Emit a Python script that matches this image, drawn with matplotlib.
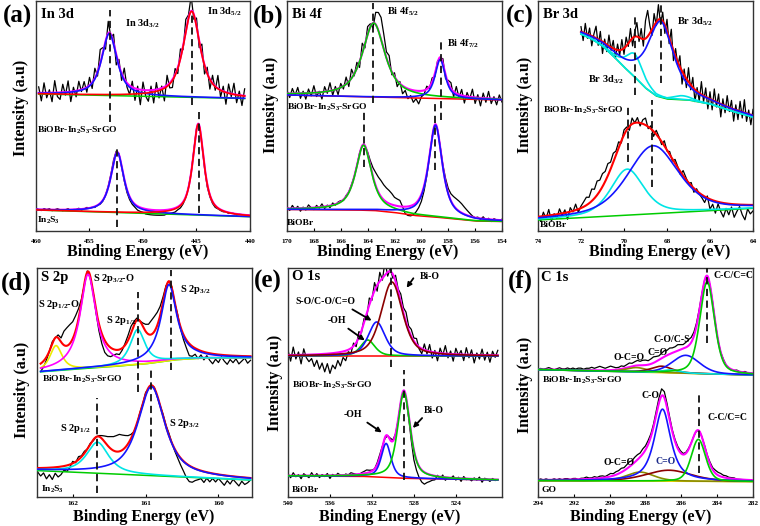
import numpy as np
import matplotlib
matplotlib.use("Agg")
import matplotlib.pyplot as plt

plt.rcParams['font.family'] = ['Liberation Serif', 'DejaVu Serif']
plt.rcParams['font.weight'] = 'bold'
plt.rcParams['mathtext.fontset'] = 'custom'
plt.rcParams['mathtext.rm'] = 'Liberation Serif:bold'
plt.rcParams['mathtext.it'] = 'Liberation Serif:bold'
plt.rcParams['mathtext.bf'] = 'Liberation Serif:bold'

# ======================= DATA =======================
# intensities in arbitrary units (0 = bottom of each panel)
# ---- (a) In 3d : BiOBr-In2S3-SrGO (top) ----
A1_RANGE = [459.75, 440.5]
A1_BG_E = [459.75, 440.5]
A1_BG_I = [137.0, 132.5]
A1_POS = [453.15, 445.45]
A1_AMP = [62, 86]
A1_HWHM = [0.85, 0.95]
A1_ETA = [0.8, 0.8]
A1_RES = [6, -8, 10, -5, 3, -9, 12, -4, -7, 8, -3, 11, -10, 4, -6, 9, -2, 7, -5,
          8, -6, 10, -4, 14, 5, -8, 12, -3, 9, -10, 6, -7, 11, -4,
          -9, 6, -12, 3, -15, 8, -6, -11, 4, -13, 7, -9, 2, -14, 10, -5, -8, 6,
          -6, 9, -4, 12, 3, 15, -5, 8, -7, 10, -9, 6,
          -10, 8, -4, 13, -7, 5, -12, 9, -3, 11, -8, 4, -10, 7]
# ---- (a) In 3d : In2S3 (bottom) ----
A2_RANGE = [460.0, 440.0]
A2_BG_E = [460.0, 440.0]
A2_BG_I = [21.0, 14.3]
A2_POS = [452.4, 444.83]
A2_AMP = [60, 91]
A2_HWHM = [0.72, 0.62]
A2_ETA = [0.8, 0.8]
A2_RES = [1, 0, -1, 1, 0, 1, -1, 0, 1, 0, -1, 0, 1, -1, 0, 0, 1, -1, 0, 1, 0,
          0, -1, 0, -1, -1, 0, 1, 2, 3,
          2, 1, -1, -2, -3, -3, -3, -3, -4, -4,
          -4, -5, -5, -5, -5, -5, -5, -5, -5, -4, -4, -4, -4, -3, -3, -2, -1, 0,
          0, 1, 1, 0, -1, -2, -3, -2, -2, -2, -1,
          -1, -1, 0, -1, 0, 0, -1, 0, 0, 0, 0, 0]
A_DASH_E = [453.1, 445.4, 452.4, 444.8]
A_DASH_TOP = [221.0, 217.7, 84.3, 119.3]
A_DASH_BOT = [109.3, 126.0, 4.3, 17.7]

# ---- (b) Bi 4f : BiOBr-In2S3-SrGO (top) ----
B1_RANGE = [170.0, 154.0]
B1_BG_E = [170.0, 154.0]
B1_BG_I = [136.0, 131.0]
B1_POS = [163.55, 158.6]
B1_AMP = [74, 39]
B1_HWHM = [1.0, 0.45]
B1_ETA = [0.8, 0.8]
B1_RES = [3, -4, 5, -2, 6, -5, 2, -6, 4, -3, 7, -4, 1, -7, 5, -2, 8, -5, 3, -6,
          4, -3, 7, -5, 9, -2, 6, -6, 10, -4, 8, 3, -5, 12, 18, 22,
          15, 6, 10, -3, 4, -6, 2, -8, -3, -10, -6, -12, -8, -13, -6,
          -4, 3, -2, 4, -3, 2, -1, 5, -4, 3, 6, -5, 7,
          -3, 6, -7, 4, -2, 8, -6, 3, -8, 5, -4, 7, -5, 2, -6, 4, -3]
# ---- (b) Bi 4f : BiOBr (bottom) ----
B2_RANGE = [170.0, 154.0]
B2_BG_E = [170.0, 165.0, 163.5, 162.0, 160.5, 159.0, 157.5, 156.0, 154.0]
B2_BG_I = [21.5, 21.0, 20.5, 18.5, 15.5, 14.0, 12.0, 10.0, 9.5]
B2_POS = [164.3, 158.95]
B2_AMP = [65, 92]
B2_HWHM = [0.7, 0.6]
B2_ETA = [0.8, 0.8]
B2_RES = [2, -2, 3, -1, 2, -3, 1, -2, 3, 0, -2, 2, -1, 3, -2, 1, -2, 2, -1, 1,
          1, -1, 1, 0, 1, 0, 0, 1, 0,
          0, 2, 5, 9, 13, 15, 16, 15, 14, 13, 11, 8, 7, 6, 0, -7, -9,
          -10, -10, -9, -8, -7, -5, -3, -1, 0,
          0, 0, 1, 2, 4, 5, 7, 9, 10, 10, 9, 7, 5, 3, 1, 0,
          1, -1, 2, -1, 1, -2, 1, 0, -1, 1]
B_DASH_E = [163.6, 158.56, 164.3, 159.0]
B_DASH_TOP = [227.7, 191.0, 121.0, 131.0]
B_DASH_BOT = [127.7, 111.0, 64.3, 61.0]

# ---- (c) Br 3d : BiOBr-In2S3-SrGO (top) ----
C1_RANGE = [72.0, 64.0]
C1_BG_E = [72.0, 71.5, 71.0, 70.5, 70.0, 69.5, 69.0, 68.5, 68.0, 67.0, 66.0, 65.0, 64.0]
C1_BG_I = [197, 192, 185, 175, 164, 154, 143, 135, 132, 131, 127, 120, 114]
C1_POS = [69.5, 67.3, 68.3]
C1_AMP = [23, 4, 76]
C1_HWHM = [0.45, 0.5, 0.72]
C1_ETA = [0.5, 0.5, 0.7]
C1_RES = [5, -8, 10, -4, 7, -10, 3, 12, -6, 9, -12, 4, -7, 11, -3, 8, -9, 6, -5, 10,
          -6, 9, -3, 12, -8, 5, 14, -4, 10, -7, 18, 26, 8, -6, 12, -3, 15, -5, 9, -8,
          12, -6, 15, -10, 8, -4, 11, -13, 6, -9, 14, -5, 10, -12, 4, -8, 13, -6, 9, -11,
          7, -10, 12, -5, 9, -13, 6, -7, 11, -4, 8, -12, 5, -9, 10, -6, 13, -8, 4, -10, 6]
# ---- (c) Br 3d : BiOBr (bottom) ----
C2_RANGE = [74.0, 64.0]
C2_BG_E = [74.0, 64.0]
C2_BG_I = [11.0, 22.7]
C2_POS = [69.85, 68.65]
C2_AMP = [46, 68]
C2_HWHM = [0.9, 1.4]
C2_ETA = [0.5, 0.5]
C2_RES = [2, -5, 4, -3, 6, -6, 1, -4, 5, -2, 3, -7, 4, -1, 6, -3, 2,
          5, 8, 6, 12, 9, 14, 11, 13, 10, 12, 7, 9, 4,
          6, -2, 5, 3, -4, 6, 0, 5, -3, 4, 7, -2, 3, -5, 4, 1, -3, 5, -1,
          3, -2, 4, 1, -3, 5, 2, -1, 3, -4, 2, -1, -3,
          -6, 2, -10, -4, -12, -2, -9, -14, -5, -11, -3, -13, -7, -2, -10, -15, -4, -9, -6]
C_DASH_E = [69.5, 68.3, 69.8, 68.7]
C_DASH_TOP = [217.7, 230.0, 124.3, 131.0]
C_DASH_BOT = [136.0, 147.7, 69.3, 44.3]

# ---- (d) S 2p : BiOBr-In2S3-SrGO (top) ----
D1_RANGE = [162.44, 159.56]
D1_BG_E = [162.44, 162.0, 161.5, 161.0, 160.6, 160.3, 159.56]
D1_BG_I = [125.5, 128.0, 130.5, 133.5, 137.5, 139.0, 139.5]
D1_POS = [162.23, 161.79, 161.11, 160.68]
D1_AMP = [25, 94, 35, 76]
D1_HWHM = [0.1, 0.13, 0.12, 0.13]
D1_ETA = [0.8, 1.0, 0.8, 1.0]
D1_RES = [-8, -6, -3, 0,
          2, 0, 3, 4,
          14, 18, 19, 17, 15, 10,
          3, -1, 1, -2, 0,
          -3, -7, -10, -12, -11, -9,
          -6, -4, -5, -2, 2, 5,
          7, 4, 2, 0, 3, 7,
          10, 14, 15, 13, 9, 5,
          2, 0, 1, -1, 2,
          -2, -5, -8, -12, -10,
          -6, -9, -4, -8, -3, -7, -10, -5, -8, -2, -6, -9, -4, -7, -3, -8, -5, -2, -7, -4]
# ---- (d) S 2p : In2S3 (bottom) ----
D2_RANGE = [162.48, 159.56]
D2_BG_E = [162.48, 159.56]
D2_BG_I = [26.7, 17.3]
D2_POS = [161.66, 160.92]
D2_AMP = [31, 89]
D2_HWHM = [0.18, 0.22]
D2_ETA = [0.8, 0.8]
D2_RES = [-4, -8, -5, -11, -7, -12, -6, -10, -8, -4,
          -6, -3, 2, -1, 3,
          1, 2, 0, 1, -1,
          0, 1, 3, 6, 9, 12,
          14, 16, 17, 15, 12, 8, 4,
          0, -1, 1, 0, 2, -1, 0, 1, -1, 0, 2, 1,
          2, 0, -2, -4, -7, -10, -14,
          -16, -15, -12, -10, -8, -11, -6, -9, -5, -8, -4, -7, -10, -5, -8, -3, -6, -9, -4, -7, -5, -2]
D_DASH_E = [161.1, 160.65, 161.66, 160.92]
D_DASH_TOP = [205.7, 227.3, 99.0, 127.3]
D_DASH_BOT = [105.7, 127.3, 4.0, 37.3]

# ---- (e) O 1s : BiOBr-In2S3-SrGO (top) ----
E1_RANGE = [540.0, 520.0]
E1_BG_E = [540.0, 520.0]
E1_BG_I = [141.3, 141.3]
E1_POS = [532.4, 531.55, 530.1]
E1_AMP = [16, 34, 74]
E1_HWHM = [0.8, 0.95, 1.2]
E1_ETA = [0.5, 0.5, 0.5]
E1_RES = [5, -6, 8, -4, 3, -9, 6, -3, -7,
          -4, -12, -6, -15, -9, -18, -10, -20, -12, -16, -8, -14,
          -6, -10, -2, -5, 3, -4, 6, -2,
          4, -5, 7, -3, 8, -6, 9, -2, 14, -4,
          3, -4, 6, 2, 8, 5, 10, 4, 7, 3, 6, -2,
          -5, 6, -3, 7, -6, 2, -8, 5, -2, 8, -4, 3, -7, 6, -1, 4, -6, 7, -3, 5, -8, 2, -4, 6, -5, 3, -7, 4, -2, 5]
# ---- (e) O 1s : BiOBr (bottom) ----
E2_RANGE = [540.0, 520.0]
E2_BG_E = [540.0, 533.0, 529.0, 520.0]
E2_BG_I = [21.3, 21.0, 19.0, 17.3]
E2_POS = [530.65, 528.95]
E2_AMP = [34, 86]
E2_HWHM = [0.55, 0.7]
E2_ETA = [0.6, 0.6]
E2_RES = [2, -2, 3, -1, 1, -3, 2, 0, -2, 3, -1, 2, -2, 1, -1, 2, -3, 1, -1, 2,
          0, -1, 1, 0, 2, 1, 0, -1, 1, 2, 3, 2, 1,
          0, 2, 3, 1, -1, 0, 2, 1, 0, -1,
          0, -1, -2, -3, -6, -10, -10, -11, -12, -12, -9, -7, -5, -4,
          1, -2, 2, -3, 0, -1, 2, -2, 1, -3, 2, -1, 0, -2, 1, -1, 2, -3, 1, 0, -2, 1, -1, 0]
E_DASH_E = [530.2, 528.9]
E_DASH_TOP = [229.0, 127.0]
E_DASH_BOT = [130.7, 17.0]

# ---- (f) C 1s : BiOBr-In2S3-SrGO (top) ----
F1_RANGE = [294.0, 282.0]
F1_BG_E = [294.0, 282.0]
F1_BG_I = [127.7, 122.3]
F1_POS = [288.5, 287.1, 286.6, 285.75, 284.56]
F1_AMP = [4.5, 6.5, 3, 18, 92]
F1_HWHM = [0.7, 0.7, 0.6, 0.9, 0.48]
F1_ETA = [0.5, 0.5, 0.5, 0.3, 0.4]
F1_RES = [0, 1, 0, 1, 2, 1, 0, 1, 2, 1, 1, 2, 1, 2, 1, 2, 2, 1, 2, 2,
          3, 2, 3, 4, 3, 2, 3, 4, 3, 2, 2, 3, 2, 3, 4, 3, 4, 5, 4, 5,
          5, 4, 5, 6, 5, 4, 5, 6, 5, 6, 5, 5, 6, 5, 4, 5, 6, 5, 4, 3,
          2, 1, 0, -1, 0, 1, 0, -1, 0, 1, 0, 0, -1, 0, 1, 0, 0, 1, 0, 0,
          0]
# ---- (f) C 1s : GO (bottom) ----
F2_RANGE = [294.0, 282.0]
F2_BG_E = [294.0, 282.0]
F2_BG_I = [16.7, 15.7]
F2_POS = [288.3, 286.7, 287.05, 285.05]
F2_AMP = [9, 11, 72, 42]
F2_HWHM = [0.9, 1.5, 0.55, 0.47]
F2_ETA = [0.4, 0.4, 0.8, 0.3]
F2_RES = [0, 1, 0, 1, 0, 0, 1, 0, 1, 0, 1, 1, 0, 1, 1, 0, 1, 1, 2, 1,
          1, 2, 1, 2, 2, 1, 2, 3, 2, 3, 3, 4, 3, 4, 5, 4, 5, 5, 4, 5,
          4, 4, 3, 3, 4, 5, 7, 6, 4, 3, 2, 2, 2, 2, 1, 1, 1, 0, 0, 0,
          0, 0, 1, 1, 2, 2, 3, 3, 3, 2, 2, 1, 1, 1, 0, 0, 0, 0, 0, 0,
          0]
F_DASH_E = [284.56, 285.03]
F_DASH_TOP = [229.0, 105.7]
F_DASH_BOT = [154.0, 24.0]

XLIMS = {'a': (460, 440), 'b': (170, 154), 'c': (74, 64),
         'd': (162.49, 159.54), 'e': (540, 519.6), 'f': (294, 282)}
XTICKS = {'a': [460, 455, 450, 445, 440], 'b': [170, 168, 166, 164, 162, 160, 158, 156, 154],
          'c': [74, 72, 70, 68, 66, 64], 'd': [162, 161, 160],
          'e': [540, 536, 532, 528, 524], 'f': [294, 292, 290, 288, 286, 284, 282]}

# ======================= STYLE / LAYOUT =======================
W, H = 760, 526
fig = plt.figure(figsize=(W / 100, H / 100), dpi=100)

BLUE, RED, GREEN, MAG = '#1414ff', '#ff0000', '#00cc00', '#ff00ff'
CYAN, YEL, DRED, OLIVE, BGY = '#00e5e5', '#ecec00', '#8b0000', '#8a8a00', '#e0d000'


def add_ax(x0, y0, x1, y1):
    return fig.add_axes([x0 / W, 1 - y1 / H, (x1 - x0) / W, (y1 - y0) / H])


def pv(E, c, a, w, eta):
    x = (np.asarray(E) - c) / w
    return a * (eta / (1 + x ** 2) + (1 - eta) * np.exp(-np.log(2) * x ** 2))


def draw_spec(ax, rng, bg_e, bg_i, pos, amp, hw, eta, res, colors, env_col, bg_col):
    be = np.asarray(bg_e, float)
    bi = np.asarray(bg_i, float)
    o = np.argsort(be)

    def bg(e):
        return np.interp(e, be[o], bi[o])

    ef = np.linspace(rng[0], rng[1], 700)
    comps = [pv(ef, c, a, w, n) for c, a, w, n in zip(pos, amp, hw, eta)]
    env = bg(ef) + np.sum(comps, axis=0)
    ed = np.linspace(rng[0], rng[1], len(res))
    dat = bg(ed) + np.sum([pv(ed, c, a, w, n) for c, a, w, n in zip(pos, amp, hw, eta)], axis=0) + np.asarray(res)
    ax.plot(ed, dat, color='k', lw=0.9, zorder=2)
    ax.plot(ef, bg(ef), color=bg_col, lw=1.1, zorder=3)
    ax.plot(ef, env, color=env_col, lw=1.5, zorder=3)
    for cp, col in zip(comps, colors):
        ax.plot(ef, bg(ef) + cp, color=col, lw=1.2, zorder=4)


def dashes(ax, es, tops, bots):
    for e, t, b in zip(es, tops, bots):
        ax.plot([e, e], [b, t], color='#111111', lw=1.3, ls=(0, (4, 2.5)), zorder=5)


def style_ax(ax, key, row):
    ax.set_xlim(*XLIMS[key])
    ax.set_ylim(0, 230 if row == 1 else 229.3)
    ax.set_xticks(XTICKS[key])
    ax.set_xticklabels([str(t) for t in XTICKS[key]])
    ax.set_yticks([])
    ax.tick_params(axis='x', direction='in', length=2.5, width=0.8,
                   labelsize=5.2, pad=5.5 if row == 1 else 2.5)
    for s in ax.spines.values():
        s.set_linewidth(1.0)
        s.set_color('#333333')


def T(x, y, s, size=7, ha='left', va='baseline', color='k', rot=0):
    fig.text(x / W, 1 - y / H, s, fontsize=size, fontweight='bold', ha=ha, va=va,
             color=color, rotation=rot)


def arrow(tail, head):
    fig.add_artist(matplotlib.patches.FancyArrowPatch(
        (tail[0] / W, 1 - tail[1] / H), (head[0] / W, 1 - head[1] / H),
        transform=fig.transFigure, arrowstyle='-|>', mutation_scale=7,
        lw=1.3, color='k'))


# ----- axes -----
axa = add_ax(36, 1, 250, 231)
axb = add_ax(287, 1, 502, 231)
axc = add_ax(538, 1, 753, 231)
axd = add_ax(37, 268, 252, 497.3)
axe = add_ax(288, 268, 502, 497.3)
axf = add_ax(538, 268, 753, 497.3)

# (a)
draw_spec(axa, A1_RANGE, A1_BG_E, A1_BG_I, A1_POS, A1_AMP, A1_HWHM, A1_ETA, A1_RES, [BLUE, RED], MAG, GREEN)
draw_spec(axa, A2_RANGE, A2_BG_E, A2_BG_I, A2_POS, A2_AMP, A2_HWHM, A2_ETA, A2_RES, [BLUE, RED], MAG, GREEN)
dashes(axa, A_DASH_E, A_DASH_TOP, A_DASH_BOT)
style_ax(axa, 'a', 1)
# (b)
draw_spec(axb, B1_RANGE, B1_BG_E, B1_BG_I, B1_POS, B1_AMP, B1_HWHM, B1_ETA, B1_RES, [GREEN, BLUE], MAG, RED)
draw_spec(axb, B2_RANGE, B2_BG_E, B2_BG_I, B2_POS, B2_AMP, B2_HWHM, B2_ETA, B2_RES, [GREEN, BLUE], MAG, RED)
dashes(axb, B_DASH_E, B_DASH_TOP, B_DASH_BOT)
style_ax(axb, 'b', 1)
# (c)
draw_spec(axc, C1_RANGE, C1_BG_E, C1_BG_I, C1_POS, C1_AMP, C1_HWHM, C1_ETA, C1_RES, [CYAN, CYAN, BLUE], RED, GREEN)
draw_spec(axc, C2_RANGE, C2_BG_E, C2_BG_I, C2_POS, C2_AMP, C2_HWHM, C2_ETA, C2_RES, [CYAN, BLUE], RED, GREEN)
dashes(axc, C_DASH_E, C_DASH_TOP, C_DASH_BOT)
style_ax(axc, 'c', 1)
# (d)
draw_spec(axd, D1_RANGE, D1_BG_E, D1_BG_I, D1_POS, D1_AMP, D1_HWHM, D1_ETA, D1_RES, [YEL, MAG, CYAN, BLUE], RED, GREEN)
draw_spec(axd, D2_RANGE, D2_BG_E, D2_BG_I, D2_POS, D2_AMP, D2_HWHM, D2_ETA, D2_RES, [CYAN, BLUE], RED, GREEN)
dashes(axd, D_DASH_E, D_DASH_TOP, D_DASH_BOT)
style_ax(axd, 'd', 2)
# (e)
draw_spec(axe, E1_RANGE, E1_BG_E, E1_BG_I, E1_POS, E1_AMP, E1_HWHM, E1_ETA, E1_RES, [GREEN, BLUE, DRED], MAG, RED)
draw_spec(axe, E2_RANGE, E2_BG_E, E2_BG_I, E2_POS, E2_AMP, E2_HWHM, E2_ETA, E2_RES, [BLUE, GREEN], MAG, RED)
dashes(axe, E_DASH_E, E_DASH_TOP, E_DASH_BOT)
style_ax(axe, 'e', 2)
# (f)
draw_spec(axf, F1_RANGE, F1_BG_E, F1_BG_I, F1_POS, F1_AMP, F1_HWHM, F1_ETA, F1_RES, [OLIVE, DRED, CYAN, BLUE, GREEN], MAG, BGY)
draw_spec(axf, F2_RANGE, F2_BG_E, F2_BG_I, F2_POS, F2_AMP, F2_HWHM, F2_ETA, F2_RES, [OLIVE, DRED, BLUE, GREEN], MAG, BGY)
dashes(axf, F_DASH_E, F_DASH_TOP, F_DASH_BOT)
style_ax(axf, 'f', 2)

# ----- axis titles -----
for (xc, yc) in [(138, 252), (388, 252), (660, 252), (144, 517), (390, 517), (641, 517)]:
    T(xc, yc, 'Binding Energy (eV)', size=11.5, ha='center', va='center')
for (xc, yc) in [(21, 108), (271, 105), (525, 105), (22, 390), (275, 383), (525, 385)]:
    T(xc, yc, 'Intensity (a.u)', size=11.5, ha='center', va='center', rot=90)
for (xc, yc, s) in [(17, 16, '(a)'), (268, 16, '(b)'), (520, 16, '(c)'),
                    (16, 283, '(d)'), (268, 281, '(e)'), (520, 281, '(f)')]:
    T(xc, yc, s, size=18, ha='center', va='center')

SAMPLE = 'BiOBr-In$_2$S$_3$-SrGO'
# (a)
T(41, 18, 'In 3d', size=10.5)
T(125, 26, 'In 3d$_{3/2}$', size=7.5)
T(207, 15, 'In 3d$_{5/2}$', size=7.5)
T(37, 133, SAMPLE, size=6.8)
T(37, 223, 'In$_2$S$_3$', size=6.8)
# (b)
T(292, 18, 'Bi 4f', size=10.5)
T(387, 15, 'Bi 4f$_{5/2}$', size=7.5)
T(447, 47, 'Bi 4f$_{7/2}$', size=7.5)
T(287, 110, SAMPLE, size=6.8)
T(287, 225, 'BiOBr', size=6.8)
# (c)
T(543, 18, 'Br 3d', size=10.5)
T(677, 25, 'Br 3d$_{5/2}$', size=7.5)
T(588, 83, 'Br 3d$_{3/2}$', size=7.5)
T(543, 113, SAMPLE, size=6.8)
T(540, 227, 'BiOBr', size=6.8)
# (d)
T(41, 281, 'S 2p', size=10.5)
T(93, 281, 'S 2p$_{3/2}$-O', size=7.5)
T(38, 307, 'S 2p$_{1/2}$-O', size=7.5)
T(106, 323, 'S 2p$_{1/2}$', size=7.5)
T(180, 292, 'S 2p$_{3/2}$', size=7.5)
T(42, 382, SAMPLE, size=6.8)
T(60, 431, 'S 2p$_{1/2}$', size=7.5)
T(169, 426, 'S 2p$_{3/2}$', size=7.5)
T(41, 492, 'In$_2$S$_3$', size=6.8)
# (e)
T(292, 280, 'O 1s', size=10.5)
T(420, 279, 'Bi-O', size=7)
T(295, 304, 'S-O/C-O/C=O', size=7)
T(328, 323, '-OH', size=7)
T(292, 388, SAMPLE, size=6.8)
T(344, 417, '-OH', size=7)
T(424, 413, 'Bi-O', size=7)
T(292, 492, 'BiOBr', size=6.8)
arrow((415, 276), (405, 290))
arrow((350, 308), (374, 322))
arrow((346, 327), (367, 342))
arrow((365, 421), (384, 434))
arrow((424, 416), (411, 430))
# (f)
T(541, 281, 'C 1s', size=10.5)
T(713, 278, 'C-C/C=C', size=7)
T(654, 342, 'C-O/C-S', size=7)
T(647, 355, 'C=O', size=7)
T(613, 360, 'O-C=O', size=7)
T(542, 383, SAMPLE, size=6.8)
T(642, 398, 'C-O', size=7)
T(707, 420, 'C-C/C=C', size=7)
T(603, 465, 'O-C=O', size=7)
T(655, 464, 'C=O', size=7, color='#1a2a8a')
T(541, 492, 'GO', size=6.8)

fig.savefig('out.png', dpi=100)
